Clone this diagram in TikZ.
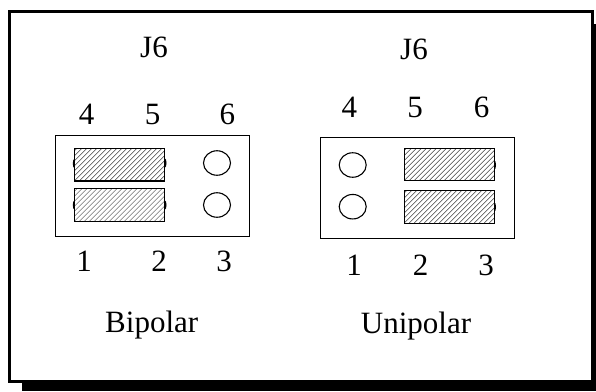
\documentclass[tikz,border=0pt]{standalone}
\usepackage{fontspec}
\setmainfont{Liberation Serif}
\usetikzlibrary{shapes.geometric}
\begin{document}
\begin{tikzpicture}[x=1pt,y=-1pt,
  lbl/.style={inner sep=0pt,font=\fontsize{31}{34}\selectfont,anchor=base,yshift=-1.5pt},
  board/.style={draw=black,line width=1pt,fill=white,inner sep=0pt,minimum width=194pt,minimum height=101pt},
  jumper/.style={draw=black,line width=1.1pt,fill=white,inner sep=0pt,minimum width=90.5pt,minimum height=32.5pt,
    path picture={
      \foreach \i in {-8,...,30}{
        \draw[line width=0.45pt,black!75]
          ([xshift=\i*5pt]path picture bounding box.south west) -- ++(40pt,40pt);
      }}},
  pin/.style={draw=black,line width=1.1pt,fill=white,ellipse,inner sep=0pt,minimum width=27pt,minimum height=24.5pt},
  stub/.style={fill=black,ellipse,inner sep=0pt,minimum width=3pt,minimum height=9pt}]
\useasboundingbox (0,0) rectangle (596,391);
\fill[white] (0,0) rectangle (596,391);
\fill[black] (22,24) rectangle (596,391);
\fill[black] (8,10) rectangle (594.3,383);
\fill[white] (11,13) rectangle (591,379.7);
\node[board] (bl) at (152.2,185.5) {};
\node[board] (ul) at (417.8,187.8) {};
\node[stub] (s1) at (74.3,163.5) {};
\node[stub] (s2) at (165,163) {};
\node[stub] (s3) at (74.3,205) {};
\node[stub] (s4) at (165,205) {};
\node[stub] (s5) at (494.5,165) {};
\node[stub] (s6) at (494.5,207) {};
\node[jumper] (a) at (119.6,164.7) {};
\node[jumper] (b) at (119.6,205) {};
\node[jumper] (c) at (449.3,164.5) {};
\node[jumper] (d) at (449.3,207) {};
\node[pin] (p1) at (217,163) {};
\node[pin] (p2) at (217,205) {};
\node[pin] (p3) at (352.7,165) {};
\node[pin] (p4) at (352.7,206.7) {};
\node[lbl] (t1) at (154,56) {J6};
\node[lbl] (t2) at (414,58.3) {J6};
\node[lbl] (n4) at (86.7,123.3) {4};
\node[lbl] (n5) at (152.7,123.3) {5};
\node[lbl] (n6) at (227.3,123.3) {6};
\node[lbl] (m4) at (349.3,116) {4};
\node[lbl] (m5) at (415,116) {5};
\node[lbl] (m6) at (481.7,116) {6};
\node[lbl] (k1) at (84,270) {1};
\node[lbl] (k2) at (159,270) {2};
\node[lbl] (k3) at (224,270) {3};
\node[lbl] (h1) at (354,274) {1};
\node[lbl] (h2) at (420.7,274) {2};
\node[lbl] (h3) at (486,274) {3};
\node[lbl] (bp) at (151.7,330.7) {Bipolar};
\node[lbl] (up) at (416,332.3) {Unipolar};
\end{tikzpicture}
\end{document}
